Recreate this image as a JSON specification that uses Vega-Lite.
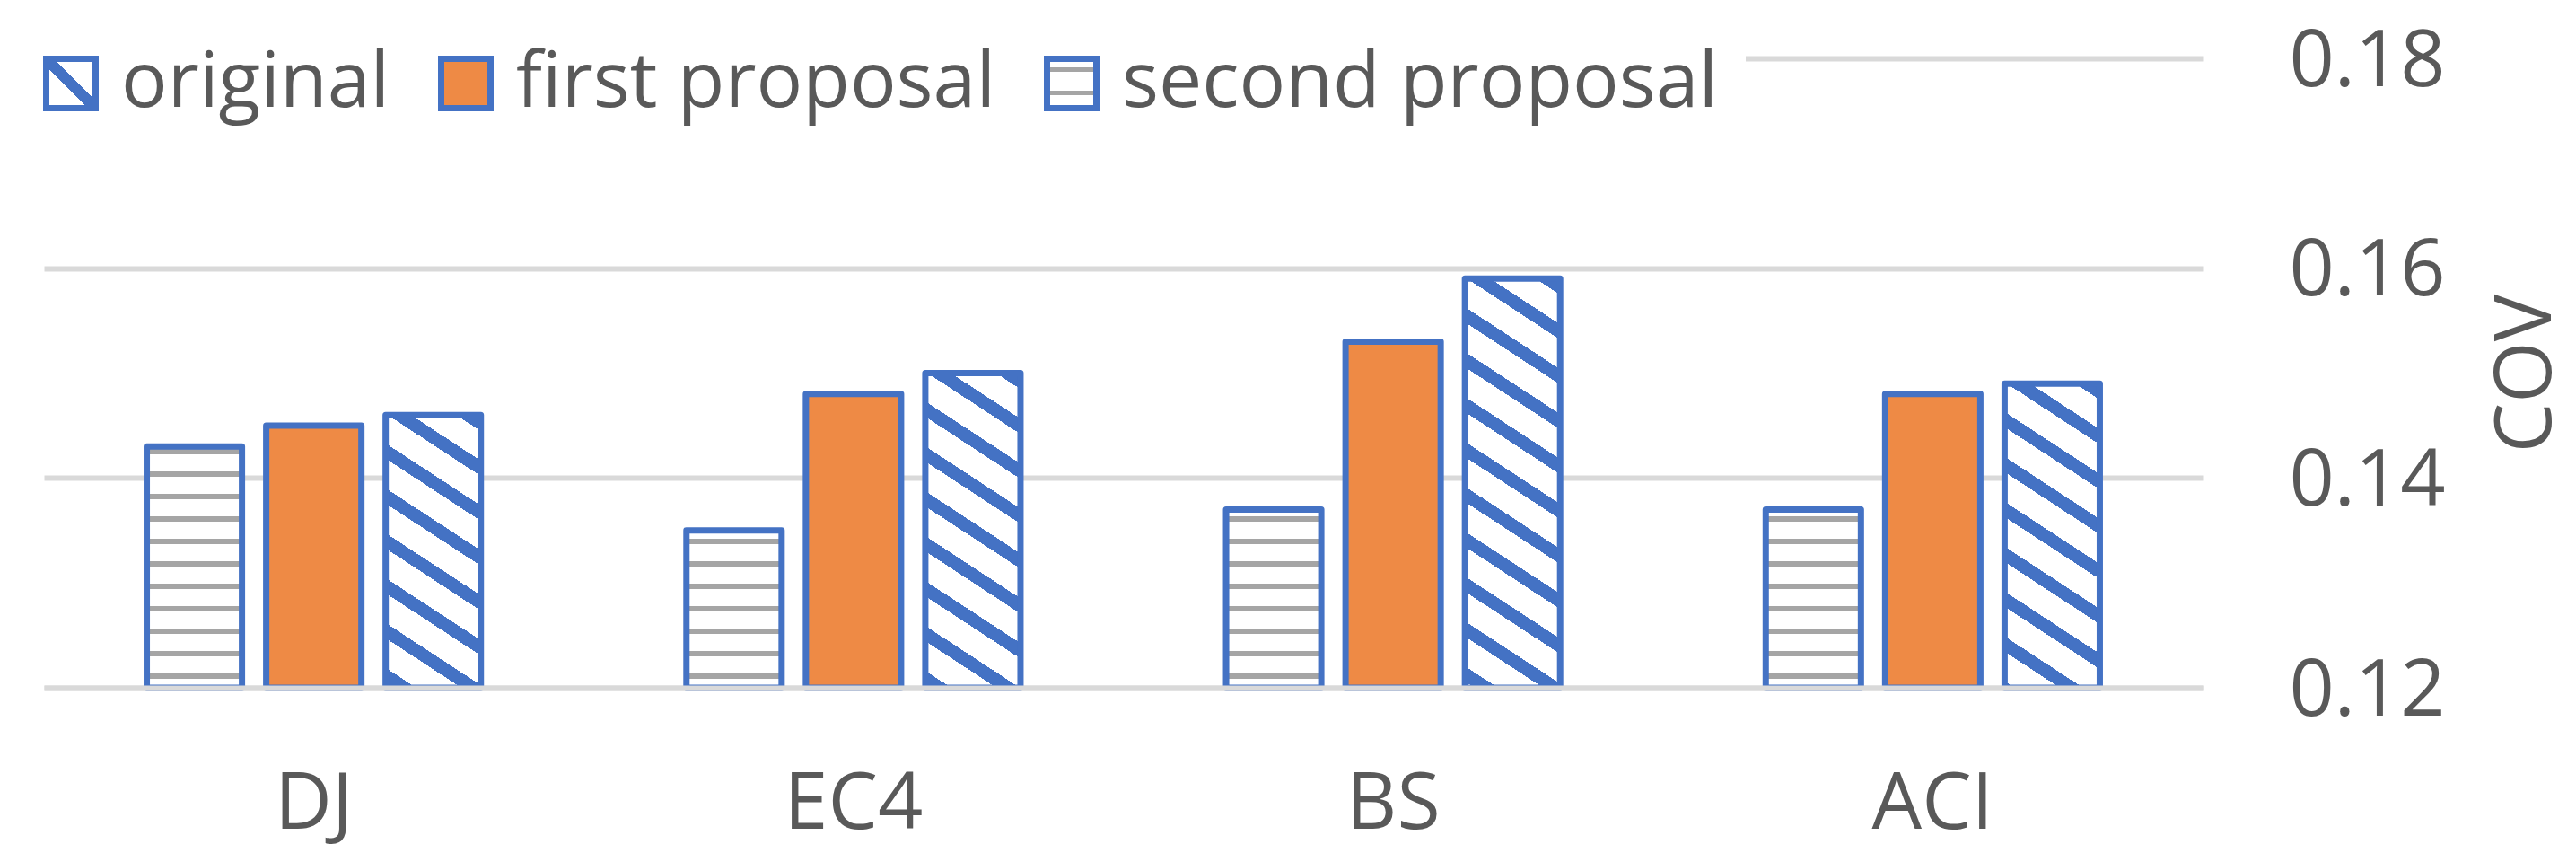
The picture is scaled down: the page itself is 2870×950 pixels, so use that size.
{
  "$schema": "https://vega.github.io/schema/vega-lite/v6.json",
  "width": 2405,
  "height": 701,
  "autosize": "none",
  "padding": {"left": 49, "top": 65, "right": 416, "bottom": 184},
  "background": "#ffffff",
  "config": {"view": {"stroke": null}},
  "data": {
    "values": [
      {"cat": "DJ", "series": "second proposal", "cov": 0.143},
      {"cat": "DJ", "series": "first proposal", "cov": 0.145},
      {"cat": "DJ", "series": "original", "cov": 0.146},
      {"cat": "EC4", "series": "second proposal", "cov": 0.135},
      {"cat": "EC4", "series": "first proposal", "cov": 0.148},
      {"cat": "EC4", "series": "original", "cov": 0.150},
      {"cat": "BS", "series": "second proposal", "cov": 0.137},
      {"cat": "BS", "series": "first proposal", "cov": 0.153},
      {"cat": "BS", "series": "original", "cov": 0.159},
      {"cat": "ACI", "series": "second proposal", "cov": 0.137},
      {"cat": "ACI", "series": "first proposal", "cov": 0.148},
      {"cat": "ACI", "series": "original", "cov": 0.149}
    ]
  },
  "mark": {"type": "bar", "stroke": "#4472C4", "strokeWidth": 7, "strokeJoin": "round"},
  "encoding": {
    "x": {
      "field": "cat", "type": "nominal", "sort": ["DJ", "EC4", "BS", "ACI"],
      "scale": {"paddingInner": 0.381, "paddingOuter": 0.1905},
      "axis": {"title": null, "orient": "bottom", "labelAngle": 0, "ticks": false, "tickSize": 0, "labelPadding": 86, "labelLimit": 1000, "labelFont": "Open Sans", "labelFontSize": 88, "labelColor": "#595959", "domain": true, "domainColor": "#D9D9D9", "domainWidth": 6, "grid": false, "zindex": 1}
    },
    "xOffset": {
      "field": "series", "type": "nominal",
      "scale": {"domain": ["second proposal", "first proposal", "original"], "paddingInner": 0.203, "paddingOuter": 0}
    },
    "y": {
      "field": "cov", "type": "quantitative",
      "scale": {"domain": [0.12, 0.18], "zero": false, "nice": false},
      "axis": {"orient": "right", "title": "COV", "values": [0.12, 0.14, 0.16, 0.18], "format": ".2f", "domain": false, "ticks": false, "tickSize": 0, "labelPadding": 96, "labelAlign": "left", "labelBaseline": "alphabetic", "labelOffset": 30, "labelFlush": false, "labelOverlap": false, "labelLimit": 1000, "labelFont": "Open Sans", "labelFontSize": 88, "labelColor": "#595959", "grid": true, "gridColor": "#D9D9D9", "gridWidth": 6, "titleFont": "Open Sans", "titleFontSize": 88, "titleFontWeight": "normal", "titleColor": "#595959", "titleAngle": 270, "titleBaseline": "top", "titlePadding": 117}
    },
    "y2": {"datum": 0.12},
    "fill": {
      "condition": [
        {"test": "datum.cat === 'DJ' && datum.series === 'second proposal'", "value": {"gradient": "linear", "x1": 0, "y1": 0, "x2": 0, "y2": 1, "stops": [
          {"offset": 0, "color": "#ffffff"}, {"offset": 0.0089, "color": "#ffffff"}, {"offset": 0.0089, "color": "#A5A5A5"}, {"offset": 0.0313, "color": "#A5A5A5"}, {"offset": 0.0313, "color": "#ffffff"},
          {"offset": 0.1020, "color": "#ffffff"}, {"offset": 0.1020, "color": "#A5A5A5"}, {"offset": 0.1243, "color": "#A5A5A5"}, {"offset": 0.1243, "color": "#ffffff"},
          {"offset": 0.1950, "color": "#ffffff"}, {"offset": 0.1950, "color": "#A5A5A5"}, {"offset": 0.2173, "color": "#A5A5A5"}, {"offset": 0.2173, "color": "#ffffff"},
          {"offset": 0.2881, "color": "#ffffff"}, {"offset": 0.2881, "color": "#A5A5A5"}, {"offset": 0.3104, "color": "#A5A5A5"}, {"offset": 0.3104, "color": "#ffffff"},
          {"offset": 0.3811, "color": "#ffffff"}, {"offset": 0.3811, "color": "#A5A5A5"}, {"offset": 0.4034, "color": "#A5A5A5"}, {"offset": 0.4034, "color": "#ffffff"},
          {"offset": 0.4741, "color": "#ffffff"}, {"offset": 0.4741, "color": "#A5A5A5"}, {"offset": 0.4965, "color": "#A5A5A5"}, {"offset": 0.4965, "color": "#ffffff"},
          {"offset": 0.5672, "color": "#ffffff"}, {"offset": 0.5672, "color": "#A5A5A5"}, {"offset": 0.5895, "color": "#A5A5A5"}, {"offset": 0.5895, "color": "#ffffff"},
          {"offset": 0.6602, "color": "#ffffff"}, {"offset": 0.6602, "color": "#A5A5A5"}, {"offset": 0.6825, "color": "#A5A5A5"}, {"offset": 0.6825, "color": "#ffffff"},
          {"offset": 0.7533, "color": "#ffffff"}, {"offset": 0.7533, "color": "#A5A5A5"}, {"offset": 0.7756, "color": "#A5A5A5"}, {"offset": 0.7756, "color": "#ffffff"},
          {"offset": 0.8463, "color": "#ffffff"}, {"offset": 0.8463, "color": "#A5A5A5"}, {"offset": 0.8686, "color": "#A5A5A5"}, {"offset": 0.8686, "color": "#ffffff"},
          {"offset": 0.9393, "color": "#ffffff"}, {"offset": 0.9393, "color": "#A5A5A5"}, {"offset": 0.9617, "color": "#A5A5A5"}, {"offset": 0.9617, "color": "#ffffff"},
          {"offset": 1, "color": "#ffffff"}]}},
        {"test": "datum.cat === 'EC4' && datum.series === 'second proposal'", "value": {"gradient": "linear", "x1": 0, "y1": 0, "x2": 0, "y2": 1, "stops": [
          {"offset": 0, "color": "#ffffff"}, {"offset": 0.0508, "color": "#ffffff"}, {"offset": 0.0508, "color": "#A5A5A5"}, {"offset": 0.0850, "color": "#A5A5A5"}, {"offset": 0.0850, "color": "#ffffff"},
          {"offset": 0.1935, "color": "#ffffff"}, {"offset": 0.1935, "color": "#A5A5A5"}, {"offset": 0.2277, "color": "#A5A5A5"}, {"offset": 0.2277, "color": "#ffffff"},
          {"offset": 0.3362, "color": "#ffffff"}, {"offset": 0.3362, "color": "#A5A5A5"}, {"offset": 0.3704, "color": "#A5A5A5"}, {"offset": 0.3704, "color": "#ffffff"},
          {"offset": 0.4789, "color": "#ffffff"}, {"offset": 0.4789, "color": "#A5A5A5"}, {"offset": 0.5131, "color": "#A5A5A5"}, {"offset": 0.5131, "color": "#ffffff"},
          {"offset": 0.6216, "color": "#ffffff"}, {"offset": 0.6216, "color": "#A5A5A5"}, {"offset": 0.6558, "color": "#A5A5A5"}, {"offset": 0.6558, "color": "#ffffff"},
          {"offset": 0.7643, "color": "#ffffff"}, {"offset": 0.7643, "color": "#A5A5A5"}, {"offset": 0.7985, "color": "#A5A5A5"}, {"offset": 0.7985, "color": "#ffffff"},
          {"offset": 0.9070, "color": "#ffffff"}, {"offset": 0.9070, "color": "#A5A5A5"}, {"offset": 0.9412, "color": "#A5A5A5"}, {"offset": 0.9412, "color": "#ffffff"},
          {"offset": 1, "color": "#ffffff"}]}},
        {"test": "(datum.cat === 'BS' || datum.cat === 'ACI') && datum.series === 'second proposal'", "value": {"gradient": "linear", "x1": 0, "y1": 0, "x2": 0, "y2": 1, "stops": [
          {"offset": 0, "color": "#ffffff"}, {"offset": 0.0368, "color": "#ffffff"}, {"offset": 0.0368, "color": "#A5A5A5"}, {"offset": 0.0670, "color": "#A5A5A5"}, {"offset": 0.0670, "color": "#ffffff"},
          {"offset": 0.1626, "color": "#ffffff"}, {"offset": 0.1626, "color": "#A5A5A5"}, {"offset": 0.1928, "color": "#A5A5A5"}, {"offset": 0.1928, "color": "#ffffff"},
          {"offset": 0.2885, "color": "#ffffff"}, {"offset": 0.2885, "color": "#A5A5A5"}, {"offset": 0.3187, "color": "#A5A5A5"}, {"offset": 0.3187, "color": "#ffffff"},
          {"offset": 0.4144, "color": "#ffffff"}, {"offset": 0.4144, "color": "#A5A5A5"}, {"offset": 0.4446, "color": "#A5A5A5"}, {"offset": 0.4446, "color": "#ffffff"},
          {"offset": 0.5403, "color": "#ffffff"}, {"offset": 0.5403, "color": "#A5A5A5"}, {"offset": 0.5705, "color": "#A5A5A5"}, {"offset": 0.5705, "color": "#ffffff"},
          {"offset": 0.6662, "color": "#ffffff"}, {"offset": 0.6662, "color": "#A5A5A5"}, {"offset": 0.6964, "color": "#A5A5A5"}, {"offset": 0.6964, "color": "#ffffff"},
          {"offset": 0.7920, "color": "#ffffff"}, {"offset": 0.7920, "color": "#A5A5A5"}, {"offset": 0.8223, "color": "#A5A5A5"}, {"offset": 0.8223, "color": "#ffffff"},
          {"offset": 0.9179, "color": "#ffffff"}, {"offset": 0.9179, "color": "#A5A5A5"}, {"offset": 0.9481, "color": "#A5A5A5"}, {"offset": 0.9481, "color": "#ffffff"},
          {"offset": 1, "color": "#ffffff"}]}},
        {"test": "datum.cat === 'DJ' && datum.series === 'original'", "value": {"gradient": "linear", "x1": 1, "y1": 0, "x2": 0.7333, "y2": 1.1675, "stops": [
          {"offset": 0, "color": "#ffffff"}, {"offset": 0.0024, "color": "#ffffff"}, {"offset": 0.0024, "color": "#4472C4"}, {"offset": 0.0480, "color": "#4472C4"}, {"offset": 0.0480, "color": "#ffffff"},
          {"offset": 0.1364, "color": "#ffffff"}, {"offset": 0.1364, "color": "#4472C4"}, {"offset": 0.1819, "color": "#4472C4"}, {"offset": 0.1819, "color": "#ffffff"},
          {"offset": 0.2704, "color": "#ffffff"}, {"offset": 0.2704, "color": "#4472C4"}, {"offset": 0.3159, "color": "#4472C4"}, {"offset": 0.3159, "color": "#ffffff"},
          {"offset": 0.4043, "color": "#ffffff"}, {"offset": 0.4043, "color": "#4472C4"}, {"offset": 0.4499, "color": "#4472C4"}, {"offset": 0.4499, "color": "#ffffff"},
          {"offset": 0.5383, "color": "#ffffff"}, {"offset": 0.5383, "color": "#4472C4"}, {"offset": 0.5839, "color": "#4472C4"}, {"offset": 0.5839, "color": "#ffffff"},
          {"offset": 0.6723, "color": "#ffffff"}, {"offset": 0.6723, "color": "#4472C4"}, {"offset": 0.7178, "color": "#4472C4"}, {"offset": 0.7178, "color": "#ffffff"},
          {"offset": 0.8063, "color": "#ffffff"}, {"offset": 0.8063, "color": "#4472C4"}, {"offset": 0.8518, "color": "#4472C4"}, {"offset": 0.8518, "color": "#ffffff"},
          {"offset": 0.9402, "color": "#ffffff"}, {"offset": 0.9402, "color": "#4472C4"}, {"offset": 0.9858, "color": "#4472C4"}, {"offset": 0.9858, "color": "#ffffff"},
          {"offset": 1, "color": "#ffffff"}]}},
        {"test": "datum.cat === 'EC4' && datum.series === 'original'", "value": {"gradient": "linear", "x1": 1, "y1": 0, "x2": 0.7717, "y2": 1.1528, "stops": [
          {"offset": 0, "color": "#ffffff"}, {"offset": 0.0021, "color": "#ffffff"}, {"offset": 0.0021, "color": "#4472C4"}, {"offset": 0.0426, "color": "#4472C4"}, {"offset": 0.0426, "color": "#ffffff"},
          {"offset": 0.1212, "color": "#ffffff"}, {"offset": 0.1212, "color": "#4472C4"}, {"offset": 0.1617, "color": "#4472C4"}, {"offset": 0.1617, "color": "#ffffff"},
          {"offset": 0.2403, "color": "#ffffff"}, {"offset": 0.2403, "color": "#4472C4"}, {"offset": 0.2808, "color": "#4472C4"}, {"offset": 0.2808, "color": "#ffffff"},
          {"offset": 0.3594, "color": "#ffffff"}, {"offset": 0.3594, "color": "#4472C4"}, {"offset": 0.3998, "color": "#4472C4"}, {"offset": 0.3998, "color": "#ffffff"},
          {"offset": 0.4785, "color": "#ffffff"}, {"offset": 0.4785, "color": "#4472C4"}, {"offset": 0.5189, "color": "#4472C4"}, {"offset": 0.5189, "color": "#ffffff"},
          {"offset": 0.5975, "color": "#ffffff"}, {"offset": 0.5975, "color": "#4472C4"}, {"offset": 0.6380, "color": "#4472C4"}, {"offset": 0.6380, "color": "#ffffff"},
          {"offset": 0.7166, "color": "#ffffff"}, {"offset": 0.7166, "color": "#4472C4"}, {"offset": 0.7571, "color": "#4472C4"}, {"offset": 0.7571, "color": "#ffffff"},
          {"offset": 0.8357, "color": "#ffffff"}, {"offset": 0.8357, "color": "#4472C4"}, {"offset": 0.8762, "color": "#4472C4"}, {"offset": 0.8762, "color": "#ffffff"},
          {"offset": 0.9548, "color": "#ffffff"}, {"offset": 0.9548, "color": "#4472C4"}, {"offset": 0.9952, "color": "#4472C4"}, {"offset": 0.9952, "color": "#ffffff"},
          {"offset": 1, "color": "#ffffff"}]}},
        {"test": "datum.cat === 'BS' && datum.series === 'original'", "value": {"gradient": "linear", "x1": 1, "y1": 0, "x2": 0.8284, "y2": 1.1262, "stops": [
          {"offset": 0, "color": "#ffffff"}, {"offset": 0.0017, "color": "#ffffff"}, {"offset": 0.0017, "color": "#4472C4"}, {"offset": 0.0341, "color": "#4472C4"}, {"offset": 0.0341, "color": "#ffffff"},
          {"offset": 0.0970, "color": "#ffffff"}, {"offset": 0.0970, "color": "#4472C4"}, {"offset": 0.1293, "color": "#4472C4"}, {"offset": 0.1293, "color": "#ffffff"},
          {"offset": 0.1922, "color": "#ffffff"}, {"offset": 0.1922, "color": "#4472C4"}, {"offset": 0.2246, "color": "#4472C4"}, {"offset": 0.2246, "color": "#ffffff"},
          {"offset": 0.2874, "color": "#ffffff"}, {"offset": 0.2874, "color": "#4472C4"}, {"offset": 0.3198, "color": "#4472C4"}, {"offset": 0.3198, "color": "#ffffff"},
          {"offset": 0.3827, "color": "#ffffff"}, {"offset": 0.3827, "color": "#4472C4"}, {"offset": 0.4150, "color": "#4472C4"}, {"offset": 0.4150, "color": "#ffffff"},
          {"offset": 0.4779, "color": "#ffffff"}, {"offset": 0.4779, "color": "#4472C4"}, {"offset": 0.5103, "color": "#4472C4"}, {"offset": 0.5103, "color": "#ffffff"},
          {"offset": 0.5731, "color": "#ffffff"}, {"offset": 0.5731, "color": "#4472C4"}, {"offset": 0.6055, "color": "#4472C4"}, {"offset": 0.6055, "color": "#ffffff"},
          {"offset": 0.6684, "color": "#ffffff"}, {"offset": 0.6684, "color": "#4472C4"}, {"offset": 0.7008, "color": "#4472C4"}, {"offset": 0.7008, "color": "#ffffff"},
          {"offset": 0.7636, "color": "#ffffff"}, {"offset": 0.7636, "color": "#4472C4"}, {"offset": 0.7960, "color": "#4472C4"}, {"offset": 0.7960, "color": "#ffffff"},
          {"offset": 0.8589, "color": "#ffffff"}, {"offset": 0.8589, "color": "#4472C4"}, {"offset": 0.8912, "color": "#4472C4"}, {"offset": 0.8912, "color": "#ffffff"},
          {"offset": 0.9541, "color": "#ffffff"}, {"offset": 0.9541, "color": "#4472C4"}, {"offset": 0.9865, "color": "#4472C4"}, {"offset": 0.9865, "color": "#ffffff"},
          {"offset": 1, "color": "#ffffff"}]}},
        {"test": "datum.cat === 'ACI' && datum.series === 'original'", "value": {"gradient": "linear", "x1": 1, "y1": 0, "x2": 0.7631, "y2": 1.1563, "stops": [
          {"offset": 0, "color": "#ffffff"}, {"offset": 0.0022, "color": "#ffffff"}, {"offset": 0.0022, "color": "#4472C4"}, {"offset": 0.0439, "color": "#4472C4"}, {"offset": 0.0439, "color": "#ffffff"},
          {"offset": 0.1247, "color": "#ffffff"}, {"offset": 0.1247, "color": "#4472C4"}, {"offset": 0.1663, "color": "#4472C4"}, {"offset": 0.1663, "color": "#ffffff"},
          {"offset": 0.2472, "color": "#ffffff"}, {"offset": 0.2472, "color": "#4472C4"}, {"offset": 0.2888, "color": "#4472C4"}, {"offset": 0.2888, "color": "#ffffff"},
          {"offset": 0.3697, "color": "#ffffff"}, {"offset": 0.3697, "color": "#4472C4"}, {"offset": 0.4113, "color": "#4472C4"}, {"offset": 0.4113, "color": "#ffffff"},
          {"offset": 0.4922, "color": "#ffffff"}, {"offset": 0.4922, "color": "#4472C4"}, {"offset": 0.5338, "color": "#4472C4"}, {"offset": 0.5338, "color": "#ffffff"},
          {"offset": 0.6147, "color": "#ffffff"}, {"offset": 0.6147, "color": "#4472C4"}, {"offset": 0.6563, "color": "#4472C4"}, {"offset": 0.6563, "color": "#ffffff"},
          {"offset": 0.7371, "color": "#ffffff"}, {"offset": 0.7371, "color": "#4472C4"}, {"offset": 0.7788, "color": "#4472C4"}, {"offset": 0.7788, "color": "#ffffff"},
          {"offset": 0.8596, "color": "#ffffff"}, {"offset": 0.8596, "color": "#4472C4"}, {"offset": 0.9013, "color": "#4472C4"}, {"offset": 0.9013, "color": "#ffffff"},
          {"offset": 0.9821, "color": "#ffffff"}, {"offset": 0.9821, "color": "#4472C4"}, {"offset": 1, "color": "#4472C4"}]}}
      ],
      "field": "series", "type": "nominal",
      "scale": {
        "domain": ["original", "first proposal", "second proposal"],
        "range": [
          {"expr": "{gradient: 'linear', x1: 1, y1: 0, x2: 0, y2: 1, stops: [{offset: 0, color: '#4472C4'}, {offset: 0.08, color: '#4472C4'}, {offset: 0.08, color: '#ffffff'}, {offset: 0.42, color: '#ffffff'}, {offset: 0.42, color: '#4472C4'}, {offset: 0.58, color: '#4472C4'}, {offset: 0.58, color: '#ffffff'}, {offset: 1, color: '#ffffff'}]}"},
          "#EE8A45",
          {"expr": "{gradient: 'linear', x1: 0, y1: 0, x2: 0, y2: 1, stops: [{offset: 0, color: '#ffffff'}, {offset: 0.17, color: '#ffffff'}, {offset: 0.17, color: '#A5A5A5'}, {offset: 0.26, color: '#A5A5A5'}, {offset: 0.26, color: '#ffffff'}, {offset: 0.64, color: '#ffffff'}, {offset: 0.64, color: '#A5A5A5'}, {offset: 0.73, color: '#A5A5A5'}, {offset: 0.73, color: '#ffffff'}, {offset: 1, color: '#ffffff'}]}"}
        ]
      },
      "legend": {"title": null, "orient": "none", "legendX": -43, "legendY": -45, "direction": "horizontal", "symbolType": "square", "symbolSize": 3025, "symbolStrokeColor": "#4472C4", "symbolStrokeWidth": 7, "labelFont": "Open Sans", "labelFontSize": 86, "labelColor": "#595959", "labelLimit": 3000, "labelOffset": 13, "columnPadding": 41, "padding": 30, "fillColor": "#ffffff"}
    }
  }
}
